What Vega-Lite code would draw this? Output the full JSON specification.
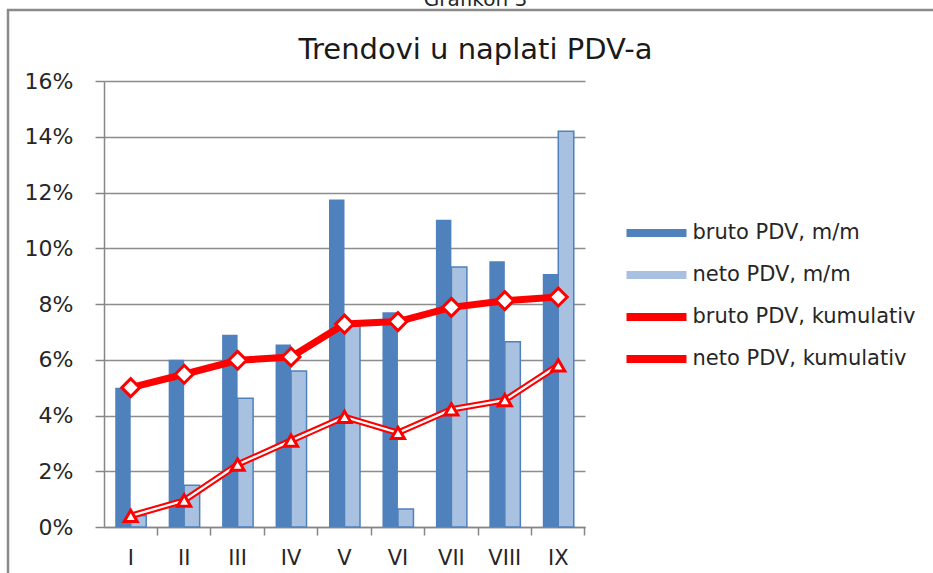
{
  "$schema": "https://vega.github.io/schema/vega-lite/v6.json",
  "width": 481,
  "height": 446,
  "autosize": {"type": "none"},
  "padding": {"left": 104, "top": 81, "right": 348, "bottom": 46},
  "background": "white",
  "config": {
    "font": "DejaVu Sans",
    "view": {"stroke": null},
    "legend": {"strokeWidth": 2.5},
    "axis": {"labelFont": "DejaVu Sans", "labelColor": "#262626", "domainColor": "#868686", "tickColor": "#868686", "gridColor": "#8c8c8c"}
  },
  "title": {
    "text": "Grafikon 3",
    "subtitle": "Trendovi u naplati PDV-a",
    "anchor": "middle",
    "frame": "group",
    "dx": 131,
    "dy": 70,
    "fontSize": 20,
    "fontWeight": "normal",
    "font": "DejaVu Sans",
    "color": "#262626",
    "subtitleFont": "DejaVu Sans",
    "subtitleFontSize": 29,
    "subtitleColor": "#1a1a1a",
    "subtitlePadding": 26,
    "offset": 14
  },
  "data": {
    "values": [
      {"m": "I", "s": "bruto PDV, m/m", "v": 0.05},
      {"m": "II", "s": "bruto PDV, m/m", "v": 0.06},
      {"m": "III", "s": "bruto PDV, m/m", "v": 0.069},
      {"m": "IV", "s": "bruto PDV, m/m", "v": 0.0655},
      {"m": "V", "s": "bruto PDV, m/m", "v": 0.1175},
      {"m": "VI", "s": "bruto PDV, m/m", "v": 0.077},
      {"m": "VII", "s": "bruto PDV, m/m", "v": 0.1102},
      {"m": "VIII", "s": "bruto PDV, m/m", "v": 0.0953},
      {"m": "IX", "s": "bruto PDV, m/m", "v": 0.0908},
      {"m": "I", "s": "neto PDV, m/m", "v": 0.004},
      {"m": "II", "s": "neto PDV, m/m", "v": 0.015},
      {"m": "III", "s": "neto PDV, m/m", "v": 0.0462},
      {"m": "IV", "s": "neto PDV, m/m", "v": 0.056},
      {"m": "V", "s": "neto PDV, m/m", "v": 0.072},
      {"m": "VI", "s": "neto PDV, m/m", "v": 0.0065},
      {"m": "VII", "s": "neto PDV, m/m", "v": 0.0933},
      {"m": "VIII", "s": "neto PDV, m/m", "v": 0.0665},
      {"m": "IX", "s": "neto PDV, m/m", "v": 0.142},
      {"m": "I", "s": "bruto PDV, kumulativ", "v": 0.05},
      {"m": "II", "s": "bruto PDV, kumulativ", "v": 0.0548},
      {"m": "III", "s": "bruto PDV, kumulativ", "v": 0.0598},
      {"m": "IV", "s": "bruto PDV, kumulativ", "v": 0.061},
      {"m": "V", "s": "bruto PDV, kumulativ", "v": 0.0728},
      {"m": "VI", "s": "bruto PDV, kumulativ", "v": 0.0737},
      {"m": "VII", "s": "bruto PDV, kumulativ", "v": 0.0788},
      {"m": "VIII", "s": "bruto PDV, kumulativ", "v": 0.0812},
      {"m": "IX", "s": "bruto PDV, kumulativ", "v": 0.0825},
      {"m": "I", "s": "neto PDV, kumulativ", "v": 0.004},
      {"m": "II", "s": "neto PDV, kumulativ", "v": 0.0095},
      {"m": "III", "s": "neto PDV, kumulativ", "v": 0.0224},
      {"m": "IV", "s": "neto PDV, kumulativ", "v": 0.031},
      {"m": "V", "s": "neto PDV, kumulativ", "v": 0.0395},
      {"m": "VI", "s": "neto PDV, kumulativ", "v": 0.0338},
      {"m": "VII", "s": "neto PDV, kumulativ", "v": 0.0422},
      {"m": "VIII", "s": "neto PDV, kumulativ", "v": 0.0455},
      {"m": "IX", "s": "neto PDV, kumulativ", "v": 0.058}
    ]
  },
  "encoding": {
    "y": {
      "field": "v",
      "type": "quantitative",
      "scale": {"domain": [0, 0.16], "nice": false},
      "axis": {
        "title": null,
        "values": [0, 0.02, 0.04, 0.06, 0.08, 0.1, 0.12, 0.14, 0.16],
        "format": ".0%",
        "labelFontSize": 22,
        "labelPadding": 22,
        "tickSize": 9,
        "tickWidth": 1.5,
        "domainWidth": 1.5,
        "gridWidth": 1.5,
        "grid": true
      }
    }
  },
  "resolve": {"axis": {"x": "independent"}},
  "layer": [
    {
      "transform": [{"filter": "datum.s === 'bruto PDV, m/m' || datum.s === 'neto PDV, m/m'"}],
      "mark": {"type": "bar", "strokeWidth": 1.5},
      "encoding": {
        "x": {
          "field": "m", "type": "nominal",
          "sort": ["I", "II", "III", "IV", "V", "VI", "VII", "VIII", "IX"],
          "scale": {"paddingInner": 0.42, "paddingOuter": 0.21},
          "axis": {"title": null, "orient": "bottom", "labelAngle": 0, "ticks": false, "labelFontSize": 21, "labelPadding": 20, "domainWidth": 1.5}
        },
        "xOffset": {"field": "s", "type": "nominal", "scale": {"domain": ["bruto PDV, m/m", "neto PDV, m/m"]}},
        "color": {
          "field": "s", "type": "nominal",
          "scale": {
            "domain": ["bruto PDV, m/m", "neto PDV, m/m", "bruto PDV, kumulativ", "neto PDV, kumulativ"],
            "range": ["#4f81bd", "#a9c1e0", "#ff0000", "#ff0000"]
          },
          "legend": {
            "title": null,
            "orient": "none",
            "legendX": 521.5,
            "legendY": 141,
            "symbolSize": 400,
            "symbolType": "M-1,-0.4H5V0.4H-1Z",
            "labelFont": "DejaVu Sans",
            "labelFontSize": 21,
            "labelColor": "#262626",
            "labelLimit": 400,
            "labelOffset": 45,
            "rowPadding": 21
          }
        },
        "stroke": {
          "condition": {"test": "datum.s === 'neto PDV, m/m'", "value": "#4f81bd"},
          "value": null
        }
      }
    },
    {
      "transform": [{"filter": "datum.s === 'neto PDV, kumulativ'"}],
      "mark": {"type": "line", "strokeWidth": 6.5, "color": "#ff0000"},
      "encoding": {
        "x": {
          "field": "m", "type": "nominal",
          "sort": ["I", "II", "III", "IV", "V", "VI", "VII", "VIII", "IX"],
          "axis": {"title": null, "orient": "bottom", "labels": false, "domain": false, "ticks": true, "tickSize": 8, "tickWidth": 1.5, "bandPosition": 1.362, "grid": false}
        }
      }
    },
    {
      "transform": [{"filter": "datum.s === 'neto PDV, kumulativ'"}],
      "mark": {"type": "line", "strokeWidth": 2.3, "color": "#ffffff"},
      "encoding": {
        "x": {"field": "m", "type": "nominal", "sort": ["I", "II", "III", "IV", "V", "VI", "VII", "VIII", "IX"], "axis": null}
      }
    },
    {
      "transform": [{"filter": "datum.s === 'neto PDV, kumulativ'"}],
      "mark": {"type": "point", "shape": "triangle-up", "filled": true, "fill": "#ffffff", "stroke": "#ff0000", "strokeWidth": 3, "size": 170, "opacity": 1},
      "encoding": {
        "x": {"field": "m", "type": "nominal", "sort": ["I", "II", "III", "IV", "V", "VI", "VII", "VIII", "IX"], "axis": null}
      }
    },
    {
      "transform": [{"filter": "datum.s === 'bruto PDV, kumulativ'"}],
      "mark": {"type": "line", "strokeWidth": 7, "color": "#ff0000"},
      "encoding": {
        "x": {"field": "m", "type": "nominal", "sort": ["I", "II", "III", "IV", "V", "VI", "VII", "VIII", "IX"], "axis": null}
      }
    },
    {
      "transform": [{"filter": "datum.s === 'bruto PDV, kumulativ'"}],
      "mark": {"type": "point", "shape": "diamond", "filled": true, "fill": "#ffffff", "stroke": "#ff0000", "strokeWidth": 3, "size": 320, "opacity": 1},
      "encoding": {
        "x": {"field": "m", "type": "nominal", "sort": ["I", "II", "III", "IV", "V", "VI", "VII", "VIII", "IX"], "axis": null}
      }
    },
    {
      "transform": [{"filter": "datum.s === 'bruto PDV, kumulativ'"}],
      "mark": {"type": "point", "opacity": 0},
      "encoding": {
        "x": {"field": "m", "type": "nominal", "sort": ["I", "II", "III", "IV", "V", "VI", "VII", "VIII", "IX"], "axis": null},
        "size": {
          "field": "m", "type": "ordinal",
          "legend": {
            "title": null,
            "orient": "none",
            "legendX": -96,
            "legendY": -71,
            "values": ["I"],
            "padding": 700,
            "strokeColor": "#8a8a8a",
            "symbolOpacity": 0,
            "labelOpacity": 0,
            "labelFontSize": 8,
            "symbolSize": 1
          }
        }
      }
    }
  ]
}
